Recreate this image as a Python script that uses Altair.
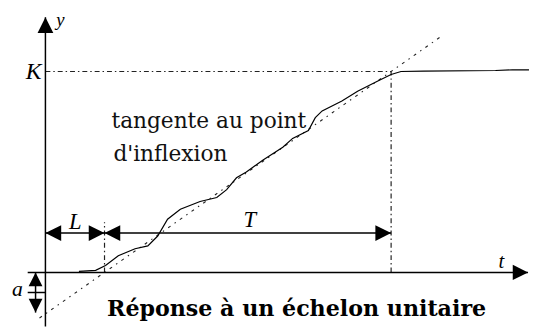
import altair as alt
import pandas as pd

# ---- quantities (t in units of L, y in units of K) ----
K = 1.0          # final value
L = 1.0          # dead time
T = 4.85         # time constant
A = 0.2          # a
DIM_Y = 0.196    # level of the L / T dimension line
L_TICK_TOP = 0.25
Y_AXIS_TOP = 1.27
X_AXIS_LEFT = -0.3
X_AXIS_RIGHT = 8.167
A_X = -0.167

curve_t = [0.567, 0.85, 1.017, 1.233, 1.517, 1.733, 1.9, 2.067, 2.283, 2.617,
           2.9, 3.067, 3.233, 3.4, 3.683, 4.017, 4.183, 4.45, 4.567, 4.683,
           5.017, 5.283, 5.617, 5.85, 6.017, 6.4, 7.617, 7.9, 8.183]
curve_y = [0.005, 0.010, 0.034, 0.083, 0.118, 0.132, 0.181, 0.265, 0.314, 0.353,
           0.373, 0.412, 0.471, 0.5, 0.559, 0.623, 0.667, 0.706, 0.770, 0.804,
           0.853, 0.902, 0.951, 0.985, 1.0, 1.002, 1.005, 1.008, 1.008]

X_DOM = [-0.6333, 8.1833]
Y_DOM = [-0.2696, 1.3039]

xs = alt.Scale(domain=X_DOM, nice=False, zero=False)
ys = alt.Scale(domain=Y_DOM, nice=False, zero=False)

def X(f="x"):
    return alt.X(f"{f}:Q", scale=xs, axis=None)

def Y(f="y"):
    return alt.Y(f"{f}:Q", scale=ys, axis=None)

# ---- tables ----
curve = pd.DataFrame({"x": curve_t, "y": curve_y})

t0, t1 = -0.1, 6.68
tangent = pd.DataFrame({"x": [t0], "y": [(t0 - L) / T * K],
                        "x2": [t1], "y2": [(t1 - L) / T * K]})

solid = pd.DataFrame([
    {"x": 0, "y": Y_DOM[0], "x2": 0, "y2": Y_AXIS_TOP},
    {"x": X_AXIS_LEFT, "y": 0, "x2": X_AXIS_RIGHT, "y2": 0},
    {"x": 0, "y": DIM_Y, "x2": L + T, "y2": DIM_Y},
    {"x": A_X, "y": 0, "x2": A_X, "y2": -A},
    {"x": X_AXIS_LEFT, "y": -A / 2, "x2": 0, "y2": -A / 2},
])

dashdot = pd.DataFrame([
    {"x": 0, "y": K, "x2": L + T, "y2": K},
    {"x": L + T, "y": 0, "x2": L + T, "y2": K},
    {"x": L, "y": 0, "x2": L, "y2": L_TICK_TOP},
])

arrows = pd.DataFrame([
    {"x": 0, "y": Y_AXIS_TOP, "d": "up", "s": 256},
    {"x": X_AXIS_RIGHT, "y": 0, "d": "right", "s": 240},
    {"x": 0, "y": DIM_Y, "d": "left", "s": 256},
    {"x": L, "y": DIM_Y, "d": "right", "s": 256},
    {"x": L, "y": DIM_Y, "d": "left", "s": 256},
    {"x": L + T, "y": DIM_Y, "d": "right", "s": 256},
    {"x": A_X, "y": 0, "d": "up", "s": 196},
    {"x": A_X, "y": -A, "d": "down", "s": 196},
])
shape_scale = alt.Scale(
    domain=["up", "down", "left", "right"],
    range=["M0,0L-1,2L1,2Z", "M0,0L-1,-2L1,-2Z", "M0,0L2,-1L2,1Z", "M0,0L-2,-1L-2,1Z"],
)

italic = pd.DataFrame([
    {"x": -0.067, "y": 0.961, "text": "K", "al": "right", "fs": 24},
    {"x": 0.183, "y": 1.225, "text": "y", "al": "left", "fs": 19},
    {"x": 0.4, "y": 0.216, "text": "L", "al": "left", "fs": 23},
    {"x": 3.35, "y": 0.225, "text": "T", "al": "left", "fs": 23},
    {"x": 7.667, "y": 0.02, "text": "t", "al": "left", "fs": 21},
    {"x": -0.567, "y": -0.118, "text": "a", "al": "left", "fs": 22},
])
italic_l = italic[italic.al == "left"]
italic_r = italic[italic.al == "right"]

note = pd.DataFrame([
    {"x": 1.117, "y": 0.72, "text": "tangente au point"},
    {"x": 1.15, "y": 0.555, "text": "d'inflexion"},
])
title = pd.DataFrame([{"x": 4.25, "y": -0.216, "text": "Réponse à un échelon unitaire"}])

# ---- layers ----
solid_l = alt.Chart(solid).mark_rule(color="black", strokeWidth=1.5).encode(
    x=X(), y=Y(), x2="x2:Q", y2="y2:Q")
dashdot_l = alt.Chart(dashdot).mark_rule(color="#222", strokeWidth=1.2,
                                         strokeDash=[5, 3, 1.5, 3]).encode(
    x=X(), y=Y(), x2="x2:Q", y2="y2:Q")
tangent_l = alt.Chart(tangent).mark_rule(color="#222", strokeWidth=1.1,
                                         strokeDash=[3, 5, 1.5, 5]).encode(
    x=X(), y=Y(), x2="x2:Q", y2="y2:Q")
curve_l = alt.Chart(curve).mark_line(color="black", strokeWidth=1.2).encode(
    x=X(), y=Y(), order="x:Q")
arrows_l = alt.Chart(arrows).mark_point(filled=True, opacity=1, color="black",
                                        strokeWidth=0).encode(
    x=X(), y=Y(),
    shape=alt.Shape("d:N", scale=shape_scale, legend=None),
    size=alt.Size("s:Q", scale=None, legend=None))

it_l = alt.Chart(italic_l).mark_text(font="Liberation Serif", fontStyle="italic",
                                     align="left", baseline="alphabetic",
                                     color="black").encode(
    x=X(), y=Y(), text="text:N", size=alt.Size("fs:Q", scale=None, legend=None))
it_r = alt.Chart(italic_r).mark_text(font="Liberation Serif", fontStyle="italic",
                                     align="right", baseline="alphabetic",
                                     color="black").encode(
    x=X(), y=Y(), text="text:N", size=alt.Size("fs:Q", scale=None, legend=None))
note_l = alt.Chart(note).mark_text(font="DejaVu Serif", fontSize=22, align="left",
                                   baseline="alphabetic", color="#111").encode(
    x=X(), y=Y(), text="text:N")
title_l = alt.Chart(title).mark_text(font="DejaVu Serif", fontWeight="bold", fontSize=22.5,
                                     align="center", baseline="alphabetic",
                                     color="black").encode(x=X(), y=Y(), text="text:N")

chart = alt.layer(
    dashdot_l, tangent_l, solid_l, curve_l, arrows_l, it_l, it_r, note_l, title_l
).properties(
    width=529, height=321, padding=0, autosize="none", background="white"
).configure_view(stroke=None)

chart.save("out.html", embed_options={"renderer": "svg", "actions": False})
